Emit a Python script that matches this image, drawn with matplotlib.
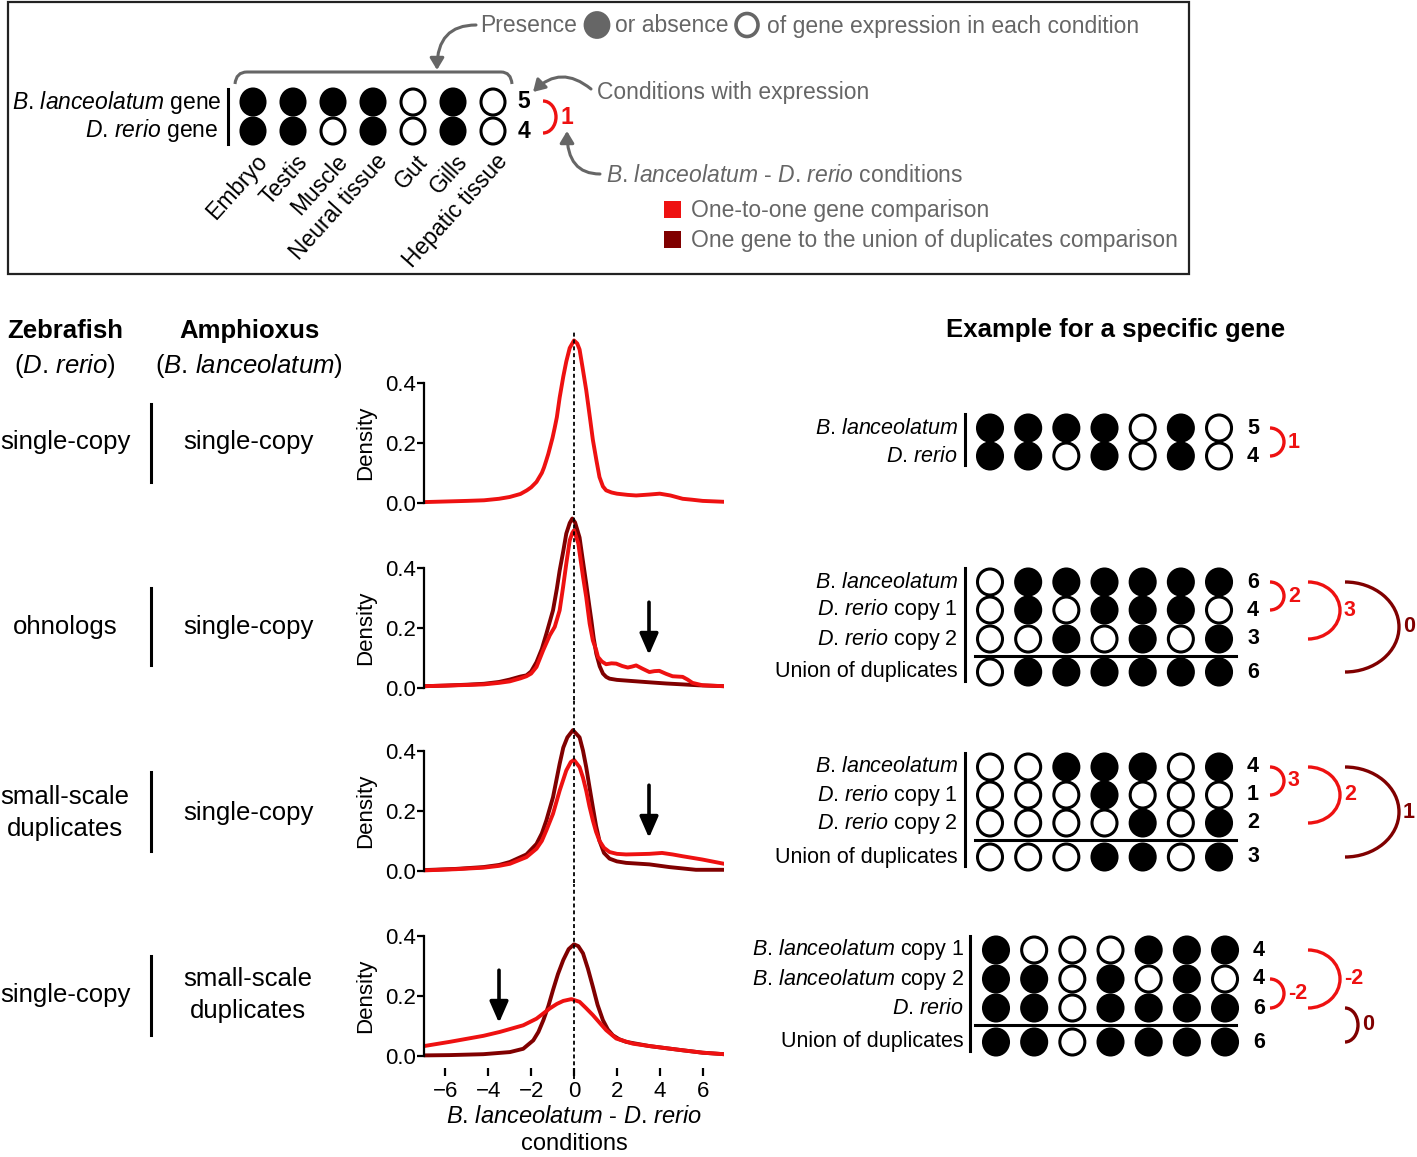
import matplotlib
matplotlib.use('Agg')
import matplotlib.pyplot as plt
from matplotlib.patches import Ellipse, Arc, Rectangle, FancyArrowPatch, PathPatch
from matplotlib.path import Path

plt.rcParams['font.family'] = 'Liberation Sans'
plt.rcParams['mathtext.fontset'] = 'custom'
plt.rcParams['mathtext.rm'] = 'Liberation Sans'
plt.rcParams['mathtext.it'] = 'Liberation Sans:italic'
plt.rcParams['mathtext.bf'] = 'Liberation Sans:bold'

W, H = 1417, 1157
RED = '#ee1111'
DARK = '#800000'
GRAY = '#666666'

# italic species names (dot kept outside math so mathtext adds no punctuation space)
BLAN = r'$\mathit{B}$. $\mathit{lanceolatum}$'
DRER = r'$\mathit{D}$. $\mathit{rerio}$'

# ---- density curves (x = B. lanceolatum - D. rerio conditions) ----
p1_red_x = [-7, -6, -5, -4.2, -3.5, -3, -2.5, -2.2, -2, -1.75, -1.5, -1.4, -1.3, -1.2, -1.1, -1.0, -0.9, -0.8,
            -0.67, -0.5, -0.36, -0.2, 0, 0.15, 0.26, 0.4, 0.57, 0.75, 0.88, 1.05, 1.19, 1.35, 1.5, 1.75, 2.0,
            2.5, 2.9, 3.5, 4.0, 4.5, 5.07, 5.5, 6.0, 7.0]
p1_red_y = [0.003, 0.005, 0.007, 0.009, 0.014, 0.02, 0.03, 0.042, 0.052, 0.07, 0.1, 0.118, 0.14, 0.163, 0.19,
            0.217, 0.25, 0.285, 0.35, 0.42, 0.47, 0.515, 0.54, 0.53, 0.51, 0.45, 0.375, 0.28, 0.21, 0.14,
            0.086, 0.055, 0.042, 0.035, 0.031, 0.027, 0.025, 0.028, 0.031, 0.025, 0.014, 0.011, 0.007, 0.004]

p2_dark_x = [-7, -6, -5, -4.2, -3.5, -3, -2.5, -2.22, -2, -1.75, -1.5, -1.29, -0.98, -0.8, -0.67, -0.5, -0.36,
             -0.2, -0.08, 0.05, 0.26, 0.4, 0.57, 0.7, 0.81, 0.92, 1.04, 1.2, 1.35, 1.5, 1.66, 2.0, 2.74, 3.5,
             4.3, 5.07, 5.8, 7.0]
p2_dark_y = [0.006, 0.008, 0.011, 0.014, 0.02, 0.028, 0.038, 0.042, 0.055, 0.086, 0.13, 0.18, 0.258, 0.33,
             0.39, 0.455, 0.513, 0.548, 0.563, 0.55, 0.5, 0.43, 0.347, 0.28, 0.225, 0.165, 0.114, 0.072,
             0.048, 0.037, 0.031, 0.027, 0.023, 0.019, 0.015, 0.012, 0.009, 0.006]
p2_red_x = [-7, -6, -5, -4.2, -3.5, -3, -2.5, -2.22, -2, -1.75, -1.44, -1.13, -0.9, -0.67, -0.51, -0.36, -0.2,
            -0.08, 0.0, 0.2, 0.42, 0.57, 0.73, 0.88, 1.04, 1.12, 1.3, 1.5, 1.75, 1.97, 2.25, 2.51, 2.7, 2.9,
            3.2, 3.52, 3.75, 3.98, 4.3, 4.6, 5.07, 5.3, 5.53, 6.0, 7.0]
p2_red_y = [0.006, 0.008, 0.01, 0.012, 0.017, 0.022, 0.032, 0.039, 0.048, 0.07, 0.125, 0.175, 0.203, 0.258,
            0.335, 0.413, 0.49, 0.515, 0.524, 0.48, 0.37, 0.302, 0.214, 0.158, 0.125, 0.103, 0.088, 0.079,
            0.082, 0.081, 0.073, 0.068, 0.071, 0.075, 0.064, 0.053, 0.056, 0.057, 0.047, 0.039, 0.037,
            0.028, 0.017, 0.009, 0.006]

p3_dark_x = [-7, -5.5, -4.23, -3.5, -2.99, -2.22, -1.75, -1.5, -1.29, -0.98, -0.67, -0.5, -0.31, -0.05, 0.26,
             0.42, 0.57, 0.72, 0.88, 1.03, 1.19, 1.4, 1.66, 2.0, 2.43, 3.52, 4.45, 5.69, 7.0]
p3_dark_y = [0.003, 0.007, 0.013, 0.02, 0.03, 0.055, 0.09, 0.125, 0.168, 0.245, 0.356, 0.41, 0.444, 0.468,
             0.444, 0.4, 0.345, 0.28, 0.212, 0.15, 0.1, 0.06, 0.041, 0.032, 0.027, 0.022, 0.013, 0.004, 0.004]
p3_red_x = [-7, -5.5, -4.23, -3.5, -2.99, -2.22, -1.75, -1.5, -1.29, -0.98, -0.67, -0.36, -0.15, 0, 0.26,
            0.42, 0.57, 0.72, 0.88, 1.03, 1.19, 1.4, 1.66, 2.0, 2.43, 3.0, 3.52, 4.11, 4.6, 5.07, 6.0, 7.0]
p3_red_y = [0.002, 0.006, 0.011, 0.017, 0.024, 0.046, 0.074, 0.1, 0.135, 0.19, 0.267, 0.334, 0.362, 0.369,
            0.345, 0.31, 0.267, 0.215, 0.168, 0.13, 0.1, 0.077, 0.063, 0.057, 0.055, 0.056, 0.057, 0.06,
            0.055, 0.049, 0.038, 0.024]

p4_dark_x = [-7, -5.8, -4.23, -2.99, -2.37, -1.9, -1.66, -1.43, -1.2, -0.98, -0.75, -0.5, -0.25, 0, 0.2, 0.42,
             0.65, 0.88, 1.1, 1.35, 1.58, 1.81, 2.1, 2.43, 3.52, 5.07, 6.0, 7.0]
p4_dark_y = [0.002, 0.003, 0.006, 0.013, 0.024, 0.052, 0.08, 0.119, 0.165, 0.219, 0.272, 0.319, 0.355, 0.371,
             0.365, 0.341, 0.29, 0.23, 0.17, 0.119, 0.088, 0.069, 0.056, 0.047, 0.033, 0.019, 0.011, 0.006]
p4_red_x = [-7, -5.8, -4.23, -3.46, -2.37, -1.75, -1.13, -0.8, -0.5, -0.12, 0.26, 0.55, 0.88, 1.2, 1.5, 1.97,
            2.74, 3.52, 5.07, 6.0, 7.0]
p4_red_y = [0.033, 0.047, 0.067, 0.08, 0.102, 0.124, 0.158, 0.173, 0.183, 0.189, 0.18, 0.16, 0.136, 0.11,
            0.086, 0.058, 0.041, 0.033, 0.019, 0.011, 0.006]

panel_dark = [None, (p2_dark_x, p2_dark_y), (p3_dark_x, p3_dark_y), (p4_dark_x, p4_dark_y)]
panel_red = [(p1_red_x, p1_red_y), (p2_red_x, p2_red_y), (p3_red_x, p3_red_y), (p4_red_x, p4_red_y)]
panel_arrow_x = [None, 3.5, 3.5, -3.5]

zebrafish_types = ['single-copy', 'ohnologs', 'small-scale\nduplicates', 'single-copy']
amphioxus_types = ['single-copy', 'single-copy', 'single-copy', 'small-scale\nduplicates']

conditions = ['Embryo', 'Testis', 'Muscle', 'Neural tissue', 'Gut', 'Gills', 'Hepatic tissue']

# ---- expression patterns (1 = expressed) ----
top_labels = [BLAN + ' gene', DRER + ' gene']
top_patterns = [[1, 1, 1, 1, 0, 1, 0],
                [1, 1, 0, 1, 0, 1, 0]]

ex1_labels = [BLAN, DRER + ' ']
ex1_patterns = [[1, 1, 1, 1, 0, 1, 0],
                [1, 1, 0, 1, 0, 1, 0]]
ex2_labels = [BLAN, DRER + ' copy 1', DRER + ' copy 2', 'Union of duplicates']
ex2_patterns = [[0, 1, 1, 1, 1, 1, 1],
                [0, 1, 0, 1, 1, 1, 0],
                [0, 0, 1, 0, 1, 0, 1],
                [0, 1, 1, 1, 1, 1, 1]]
ex3_labels = ex2_labels
ex3_patterns = [[0, 0, 1, 1, 1, 0, 1],
                [0, 0, 0, 1, 0, 0, 0],
                [0, 0, 0, 0, 1, 0, 1],
                [0, 0, 0, 1, 1, 0, 1]]
ex4_labels = [BLAN + ' copy 1', BLAN + ' copy 2', DRER + ' ', 'Union of duplicates']
ex4_patterns = [[1, 0, 0, 0, 1, 1, 1],
                [1, 1, 0, 1, 0, 1, 0],
                [1, 1, 0, 1, 1, 1, 1],
                [1, 1, 0, 1, 1, 1, 1]]
# comparisons: (row a, row b, union comparison?)
ex1_pairs = [(0, 1, False)]
ex2_pairs = [(0, 1, False), (0, 2, False), (0, 3, True)]
ex3_pairs = [(0, 1, False), (0, 2, False), (0, 3, True)]
ex4_pairs = [(1, 2, False), (0, 2, False), (2, 3, True)]


fig = plt.figure(figsize=(W / 100, H / 100), dpi=100)
ax0 = fig.add_axes([0, 0, 1, 1])
ax0.set_xlim(0, W)
ax0.set_ylim(H, 0)
ax0.axis('off')


def dot_row(xs, y, pattern, w, h, color='black', lw=2.2):
    for x, on in zip(xs, pattern):
        ax0.add_patch(Ellipse((x, y), w, h, facecolor=color if on else 'white',
                              edgecolor=color, lw=lw, zorder=3))


def bracket(x, y1, y2, bulge, color, label, size=15.5):
    ax0.add_patch(Arc((x, (y1 + y2) / 2), 2 * bulge, y2 - y1, theta1=-90, theta2=90,
                      color=color, lw=2.4, zorder=3))
    ax0.text(x + bulge + 4, (y1 + y2) / 2, label, color=color, fontsize=size,
             fontweight='bold', ha='left', va='center')


# ---------------- top explanation box ----------------
ax0.add_patch(Rectangle((8, 2), 1181, 272, fill=False, edgecolor='#222222', lw=1.6))

top_x = [253 + 40 * i for i in range(7)]
top_y = [102, 131]
for lab, pat, y, rx in zip(top_labels, top_patterns, top_y, [222, 218]):
    ax0.text(rx, y, lab, fontsize=16.5, ha='right', va='center')
    dot_row(top_x, y, pat, 24, 26)
    ax0.text(524, y, str(sum(pat)), fontsize=16.5, fontweight='bold', ha='center', va='center')
ax0.plot([228, 228], [89, 144], color='black', lw=2.2)
bracket(543, 101, 133, 13, RED, str(sum(top_patterns[0]) - sum(top_patterns[1])), size=16.5)

for x, cond in zip(top_x, conditions):
    ax0.text(x + 2, 150, cond, fontsize=16.5, rotation=48, rotation_mode='anchor',
             ha='right', va='top')

# gray bracket over the dots
bv = [(235, 84), (236, 72), (247, 72), (501, 72), (511, 72), (512, 84)]
bc = [Path.MOVETO, Path.CURVE3, Path.CURVE3, Path.LINETO, Path.CURVE3, Path.CURVE3]
ax0.add_patch(PathPatch(Path(bv, bc), fill=False, edgecolor=GRAY, lw=2.2))

ax0.text(480, 26, 'Presence', fontsize=16.5, color=GRAY, ha='left', va='center')
ax0.add_patch(Ellipse((597, 25), 24, 25, facecolor=GRAY, edgecolor=GRAY, lw=2))
ax0.text(615, 26, 'or absence', fontsize=16.5, color=GRAY, ha='left', va='center')
ax0.add_patch(Ellipse((747, 25), 22, 23, facecolor='white', edgecolor=GRAY, lw=2.6))
ax0.text(767, 26, 'of gene expression in each condition', fontsize=16.5, color=GRAY,
         ha='left', va='center')
ax0.text(597, 92, 'Conditions with expression', fontsize=16.5, color=GRAY, ha='left', va='center')
ax0.text(606, 175, BLAN + ' - ' + DRER + ' conditions', fontsize=16.5,
         color=GRAY, ha='left', va='center')

arrow_kw = dict(arrowstyle='-|>,head_length=0.5,head_width=0.3', color=GRAY, lw=2.2,
                mutation_scale=14, shrinkA=0, shrinkB=0)
ax0.add_patch(FancyArrowPatch((476, 25), (437, 70), connectionstyle='angle3,angleA=0,angleB=90', **arrow_kw))
ax0.add_patch(FancyArrowPatch((591, 89), (533, 92), connectionstyle='arc3,rad=0.45', **arrow_kw))
ax0.add_patch(FancyArrowPatch((600, 174), (567, 131), connectionstyle='angle3,angleA=0,angleB=90', **arrow_kw))

ax0.add_patch(Rectangle((664, 201), 17, 17, facecolor=RED, edgecolor='none'))
ax0.add_patch(Rectangle((664, 231), 17, 17, facecolor=DARK, edgecolor='none'))
ax0.text(691, 210, 'One-to-one gene comparison', fontsize=16.5, color=GRAY, ha='left', va='center')
ax0.text(691, 240, 'One gene to the union of duplicates comparison', fontsize=16.5, color=GRAY,
         ha='left', va='center')

# ---------------- left: gene categories ----------------
ax0.text(65, 331, 'Zebrafish', fontsize=18.5, fontweight='bold', ha='center', va='center')
ax0.text(65, 366, '(' + DRER + ')', fontsize=18.5, ha='center', va='center')
ax0.text(249, 331, 'Amphioxus', fontsize=18.5, fontweight='bold', ha='center', va='center')
ax0.text(249, 366, '(' + BLAN + ')', fontsize=18.5, ha='center', va='center')

row_mid = [442, 627, 813, 995]
row_bar = [(404, 482), (588, 665), (772, 851), (956, 1035)]
for zf, am, ym, (b1, b2) in zip(zebrafish_types, amphioxus_types, row_mid, row_bar):
    ax0.text(65, ym, zf, fontsize=18.5, ha='center', va='center', linespacing=1.45)
    ax0.text(248, ym, am, fontsize=18.5, ha='center', va='center', linespacing=1.45)
    ax0.plot([151, 151], [b1, b2], color='black', lw=2.2)

# ---------------- density panels ----------------
zero_px = [503, 688, 871, 1056]
PX_PER_UNIT = 301
Y_LO, Y_HI = -0.04, 0.57
for i, y0 in enumerate(zero_px):
    top = y0 - Y_HI * PX_PER_UNIT
    hgt = (Y_HI - Y_LO) * PX_PER_UNIT
    ax = fig.add_axes([424 / W, 1 - (top + hgt) / H, 300 / W, hgt / H])
    ax.patch.set_visible(False)
    ax.set_xlim(-7, 7)
    ax.set_ylim(Y_LO, Y_HI)
    if panel_dark[i] is not None:
        ax.plot(panel_dark[i][0], panel_dark[i][1], color=DARK, lw=2.8, solid_capstyle='round')
    ax.plot(panel_red[i][0], panel_red[i][1], color=RED, lw=2.8, solid_capstyle='round')
    if i == 3:
        ax.axvline(0, ymin=-0.06, ymax=1, color='black', lw=1.3, ls=(0, (2.2, 1.6)), clip_on=False)
    else:
        ax.axvline(0, color='black', lw=1.3, ls=(0, (2.2, 1.6)))
    if panel_arrow_x[i] is not None:
        ax.annotate('', xy=(panel_arrow_x[i], 0.11), xytext=(panel_arrow_x[i], 0.285),
                    arrowprops=dict(arrowstyle='-|>,head_length=0.8,head_width=0.35', color='black',
                                    lw=2.6, mutation_scale=16, shrinkA=0, shrinkB=0))
    for s in ['top', 'right', 'bottom']:
        ax.spines[s].set_visible(False)
    ax.spines['left'].set_bounds(0, 0.4)
    ax.spines['left'].set_linewidth(1.6)
    ax.set_yticks([0, 0.2, 0.4])
    ax.set_yticklabels(['0.0', '0.2', '0.4'])
    ax.tick_params(axis='y', length=5, width=1.6, pad=1, labelsize=16)
    ax.set_ylabel('Density', fontsize=16)
    ax.yaxis.set_label_coords(-0.16, (0.2 - Y_LO) / (Y_HI - Y_LO))
    if i == 3:
        ax.set_xticks([-6, -4, -2, 0, 2, 4, 6])
        ax.tick_params(axis='x', length=6, width=1.6, pad=3, labelsize=16)
        ax.set_xlabel(BLAN + ' - ' + DRER + '\nconditions',
                      fontsize=17, labelpad=3, linespacing=1.3)
    else:
        ax.set_xticks([])

# ---------------- right: examples ----------------
ax0.text(1116, 330, 'Example for a specific gene', fontsize=18.5, fontweight='bold',
         ha='center', va='center')

examples = [
    (ex1_labels, ex1_patterns, ex1_pairs, [428, 456], 990, 965, 958),
    (ex2_labels, ex2_patterns, ex2_pairs, [582, 610, 639, 672], 990, 965, 958),
    (ex3_labels, ex3_patterns, ex3_pairs, [767, 795, 823, 857], 990, 965, 958),
    (ex4_labels, ex4_patterns, ex4_pairs, [950, 979, 1008, 1042], 996, 970, 964),
]
bracket_geom = {  # (x, bulge) by bracket slot
    0: (1270, 14), 1: (1308, 32), 2: (1345, 54),
}
for labels, patterns, pairs, ys, cx0, barx, labx in examples:
    xs = [cx0 + 38.17 * k for k in range(7)]
    counts = [sum(p) for p in patterns]
    for lab, pat, y, n in zip(labels, patterns, ys, counts):
        ax0.text(labx, y, lab, fontsize=15.5, ha='right', va='center')
        dot_row(xs, y, pat, 25, 26)
        ax0.text(cx0 + 263, y, str(n), fontsize=15.5, fontweight='bold', ha='center', va='center')
    ax0.plot([barx, barx], [ys[0] - 14, ys[-1] + 9], color='black', lw=2.2)
    if len(ys) == 4:
        ax0.plot([975, 1236], [(ys[2] + ys[3]) / 2] * 2, color='black', lw=2.2)
    for slot, (a, b, union) in enumerate(pairs):
        bx, bulge = bracket_geom[slot]
        if union and b - a == 1:
            bulge = 13
        bracket(bx, ys[a], ys[b], bulge, DARK if union else RED, str(counts[a] - counts[b]))

fig.savefig('out.png', dpi=100)
